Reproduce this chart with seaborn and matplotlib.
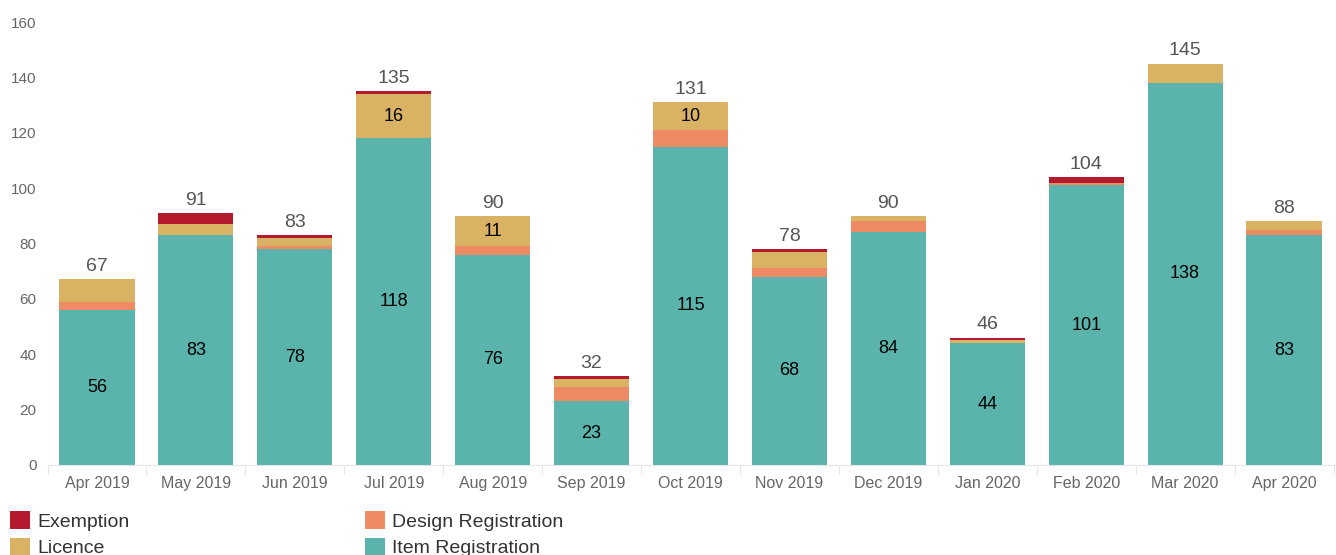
import numpy as np
import pandas as pd
import matplotlib
matplotlib.use("Agg")
import matplotlib.pyplot as plt
import seaborn as sns
from matplotlib.patches import Patch

# --- data ---
months = ["Apr 2019", "May 2019", "Jun 2019", "Jul 2019", "Aug 2019", "Sep 2019", "Oct 2019",
          "Nov 2019", "Dec 2019", "Jan 2020", "Feb 2020", "Mar 2020", "Apr 2020"]
item_registration = [56, 83, 78, 118, 76, 23, 115, 68, 84, 44, 101, 138, 83]
design_registration = [3, 0, 1, 0, 3, 5, 6, 3, 4, 0, 1, 0, 2]
licence = [8, 4, 3, 16, 11, 3, 10, 6, 2, 1, 0, 7, 3]
exemption = [0, 4, 1, 1, 0, 1, 0, 1, 0, 1, 2, 0, 0]
y_ticks = [0, 20, 40, 60, 80, 100, 120, 140, 160]

colors = {
    "Exemption": "#B5192E",
    "Licence": "#D9B264",
    "Design Registration": "#EF8B64",
    "Item Registration": "#5AB4AB",
}

df = pd.DataFrame({
    "month": months,
    "Item Registration": item_registration,
    "Design Registration": design_registration,
    "Licence": licence,
    "Exemption": exemption,
})
stack_order = ["Item Registration", "Design Registration", "Licence", "Exemption"]
cum = df[stack_order].cumsum(axis=1)
df["total"] = cum["Exemption"]

sns.set_style("white")
plt.rcParams["font.family"] = ["Liberation Sans", "DejaVu Sans"]

fig = plt.figure(figsize=(13.36, 5.55), dpi=100)
ax = fig.add_axes([47.5 / 1336, 90 / 555, 1286 / 1336, 443 / 555])

# stacked bars: draw cumulative heights from the top layer down
for name in reversed(stack_order):
    sns.barplot(x=df["month"], y=cum[name], order=months, color=colors[name],
                saturation=1, width=0.76, linewidth=0, ax=ax)

# total labels above bars
for i, tot in enumerate(df["total"]):
    ax.annotate(str(tot), (i, tot), xytext=(0, 3), textcoords="offset points",
                ha="center", va="bottom", fontsize=14, color="#555555")

# segment labels (only segments big enough)
for i in range(len(months)):
    v = item_registration[i]
    ax.text(i, v / 2, str(v), ha="center", va="center", fontsize=13, color="black")
    lv = licence[i]
    if lv >= 10:
        base = cum["Design Registration"][i]
        ax.text(i, base + lv / 2, str(lv), ha="center", va="center", fontsize=13, color="black")

ax.set_ylim(0, 160)
ax.set_xlim(-0.5, len(months) - 0.5)
ax.set_yticks(y_ticks)
ax.set_xlabel("")
ax.set_ylabel("")
ax.tick_params(axis="y", length=0, pad=8, labelsize=11, labelcolor="#666666")
ax.tick_params(axis="x", length=0, pad=8, labelsize=11.5, labelcolor="#666666")
for s in ["top", "right", "left"]:
    ax.spines[s].set_visible(False)
ax.spines["bottom"].set_color("#e6e6e6")
ax.spines["bottom"].set_linewidth(0.8)

# faint separators between categories under the axis
for b in np.arange(-0.5, len(months), 1.0):
    ax.plot([b, b], [0, -0.02], transform=ax.get_xaxis_transform(), clip_on=False,
            color="#e6e6e6", lw=0.8)

handles = [Patch(facecolor=colors[n], edgecolor="none") for n in
           ["Exemption", "Licence", "Design Registration", "Item Registration"]]
labels = ["Exemption", "Licence", "Design Registration", "Item Registration"]
fig.legend(handles, labels, ncol=2, loc="upper left", bbox_to_anchor=(10 / 1336, 1 - 511 / 555),
           frameon=False, fontsize=14, handlelength=1.05, handleheight=1.05, handletextpad=0.35,
           columnspacing=12.1, labelspacing=0.36, borderpad=0, borderaxespad=0, labelcolor="#333333")

fig.savefig("out.png", dpi=100)
